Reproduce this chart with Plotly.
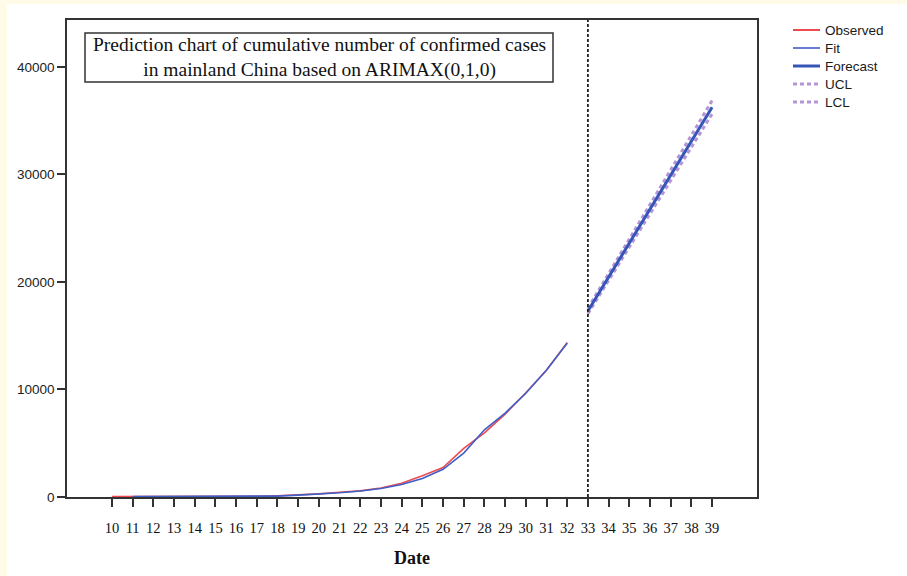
import plotly.graph_objects as go

# Cumulative confirmed cases in mainland China (date index = day of series)
obs_days = list(range(10, 33))
observed = [41, 41, 41, 41, 41, 41, 45, 62, 121, 198, 291, 440, 571, 830,
            1287, 1975, 2744, 4515, 5974, 7711, 9692, 11791, 14380]

fit_days = list(range(11, 33))
fitted = [41, 41, 41, 41, 41, 43, 50, 85, 170, 262, 400, 560, 790,
          1160, 1720, 2580, 4080, 6250, 7800, 9650, 11820, 14300]

fc_days = list(range(33, 40))
forecast = [17300, 20450, 23600, 26750, 29950, 33100, 36250]
ucl = [17550, 20780, 24000, 27210, 30460, 33660, 36870]
lcl = [17050, 20120, 23200, 26290, 29440, 32540, 35630]

x_ticks = list(range(10, 40))
y_ticks = [0, 10000, 20000, 30000, 40000]

RED = "#ee4a52"
BLUE_FIT = "#3f5fc8"
BLUE_FC = "#3556b8"
PURPLE = "#b595d6"
AXIS = "#333333"

W, H = 907, 576
L, R, T, B = 67, 757, 20, 497


def px(xp):
    return (xp - L) / (R - L)


def py(yp):
    return (B - yp) / (B - T)


fig = go.Figure()
fig.add_trace(go.Scatter(x=obs_days, y=observed, mode="lines", name="Observed",
                         line=dict(color=RED, width=1.6), showlegend=False))
fig.add_trace(go.Scatter(x=fit_days, y=fitted, mode="lines", name="Fit",
                         line=dict(color=BLUE_FIT, width=1.6), showlegend=False))
fig.add_trace(go.Scatter(x=fc_days, y=ucl, mode="lines", name="UCL",
                         line=dict(color=PURPLE, width=3, dash="4px,3px"),
                         showlegend=False))
fig.add_trace(go.Scatter(x=fc_days, y=lcl, mode="lines", name="LCL",
                         line=dict(color=PURPLE, width=3, dash="4px,3px"),
                         showlegend=False))
fig.add_trace(go.Scatter(x=fc_days, y=forecast, mode="lines", name="Forecast",
                         line=dict(color=BLUE_FC, width=3), showlegend=False))

shapes = [
    # cream page edge with white panel
    dict(type="rect", xref="paper", yref="paper", x0=px(7), x1=px(W + 5),
         y0=py(4), y1=py(H + 5), fillcolor="white", line=dict(width=0),
         layer="below"),
    # forecast origin
    dict(type="line", xref="x", yref="paper", x0=33, x1=33, y0=0, y1=1,
         line=dict(color="#222222", width=1.8, dash="3px,2px")),
    # title frame
    dict(type="rect", xref="paper", yref="paper", x0=px(85), x1=px(553),
         y0=py(82), y1=py(33), fillcolor="white",
         line=dict(color="#333333", width=1.5)),
]

annotations = [
    dict(xref="paper", yref="paper", x=px(319), y=py(58), xanchor="center",
         yanchor="middle", showarrow=False, align="center",
         text="Prediction chart of cumulative number of confirmed cases<br>"
              "in mainland China based on ARIMAX(0,1,0)",
         font=dict(family="Liberation Serif", size=19.5, color="#111111")),
]

legend_items = [
    ("Observed", RED, 2, None),
    ("Fit", BLUE_FIT, 1.6, None),
    ("Forecast", BLUE_FC, 3, None),
    ("UCL", PURPLE, 3, "4px,3px"),
    ("LCL", PURPLE, 3, "4px,3px"),
]
for i, (label, color, width, dash) in enumerate(legend_items):
    yy = 30 + 18 * i
    line = dict(color=color, width=width)
    if dash:
        line["dash"] = dash
    shapes.append(dict(type="line", xref="paper", yref="paper",
                       x0=px(793), x1=px(820), y0=py(yy), y1=py(yy), line=line))
    annotations.append(dict(xref="paper", yref="paper", x=px(823), y=py(yy),
                            xanchor="left", yanchor="middle", showarrow=False,
                            text=label,
                            font=dict(family="Liberation Sans", size=13.5,
                                      color="#1a1a1a")))

fig.update_layout(
    width=W, height=H,
    margin=dict(l=L, r=W - R, t=T, b=H - B, pad=0),
    paper_bgcolor="#fffbe8",
    plot_bgcolor="white",
    shapes=shapes,
    annotations=annotations,
    showlegend=False,
    xaxis=dict(
        range=[7.83, 41.17], tickmode="array", tickvals=x_ticks,
        ticktext=[str(v) for v in x_ticks],
        ticks="outside", ticklen=8, tickwidth=1.5, tickcolor=AXIS,
        ticklabelstandoff=9,
        showline=True, linecolor=AXIS, linewidth=1.5, mirror=True,
        showgrid=False, zeroline=False,
        tickfont=dict(family="Liberation Serif", size=14.5, color="#111111"),
        title=dict(text="<b>Date</b>", standoff=16,
                   font=dict(family="Liberation Serif", size=18,
                             color="#111111")),
    ),
    yaxis=dict(
        range=[0, 44370], tickmode="array", tickvals=y_ticks,
        ticktext=[str(v) for v in y_ticks],
        ticks="outside", ticklen=8, tickwidth=1.5, tickcolor=AXIS,
        showline=True, linecolor=AXIS, linewidth=1.5, mirror=True,
        showgrid=False, zeroline=False,
        tickfont=dict(family="Liberation Sans", size=13.5, color="#222222"),
    ),
)

fig.write_html("out.html")
